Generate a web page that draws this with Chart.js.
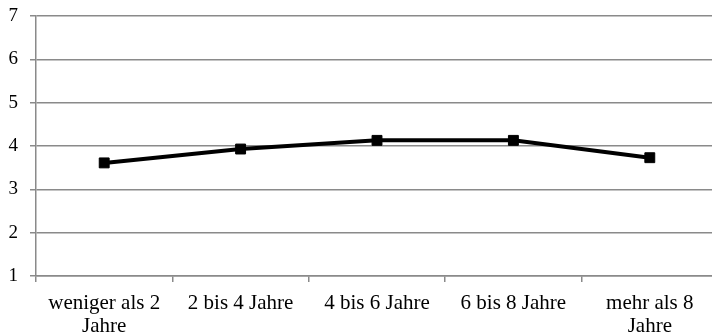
<!DOCTYPE html>
<html>
<head>
<meta charset="utf-8">
<script src="https://cdn.jsdelivr.net/npm/chart.js@4/dist/chart.umd.min.js"></script>
<style>
  html, body { margin: 0; padding: 0; background: #fff; overflow: hidden; }
  #wrap { width: 718px; height: 336px; }
</style>
</head>
<body>
<div id="wrap"><canvas id="c" width="718" height="336"></canvas></div>
<script>
// Categories (multi-line labels) and mean values
const categories = [
  ['weniger als 2', 'Jahre'],
  '2 bis 4 Jahre',
  '4 bis 6 Jahre',
  '6 bis 8 Jahre',
  ['mehr als 8', 'Jahre']
];
const meanValues = [3.61, 3.93, 4.13, 4.13, 3.73];
const yTicks = [1, 2, 3, 4, 5, 6, 7];

const serifFamily = '"Liberation Serif", "Times New Roman", serif';
const gridGray = '#8a8a8a';

new Chart(document.getElementById('c'), {
  type: 'line',
  data: {
    labels: categories,
    datasets: [{
      data: meanValues,
      borderColor: '#000',
      backgroundColor: '#000',
      borderWidth: 4,
      pointStyle: 'rect',
      pointRadius: 7,
      pointBorderWidth: 1,
      pointBorderColor: '#000',
      pointBackgroundColor: '#000',
      tension: 0,
      fill: false
    }]
  },
  options: {
    responsive: false,
    animation: false,
    layout: { autoPadding: false, padding: { top: 16, right: 0, bottom: 0, left: 0 } },
    plugins: { legend: { display: false }, tooltip: { enabled: false } },
    scales: {
      x: {
        offset: true,
        grid: {
          offset: true,
          drawOnChartArea: false,
          drawTicks: true,
          tickLength: 6,
          lineWidth: 1.5,
          color: gridGray
        },
        border: { display: true, color: gridGray, width: 1.5 },
        ticks: {
          color: '#000',
          font: { family: serifFamily, size: 21, lineHeight: 1.1 },
          padding: 10,
          maxRotation: 0,
          autoSkip: false
        },
        afterFit: s => {
          s.height = 60;
          s.paddingLeft = 0;
          s.paddingRight = 0;
        }
      },
      y: {
        min: yTicks[0],
        max: yTicks[yTicks.length - 1],
        afterBuildTicks: s => { s.ticks = yTicks.map(v => ({ value: v })); },
        grid: {
          color: gridGray,
          lineWidth: 1.5,
          drawTicks: true,
          tickLength: 6
        },
        border: { display: true, color: gridGray, width: 1.5 },
        ticks: {
          color: '#000',
          font: { family: serifFamily, size: 19 },
          padding: 12
        },
        afterFit: s => {
          s.width = 36;
          s.paddingTop = 0;
          s.paddingBottom = 0;
        }
      }
    }
  }
});
</script>
</body>
</html>
